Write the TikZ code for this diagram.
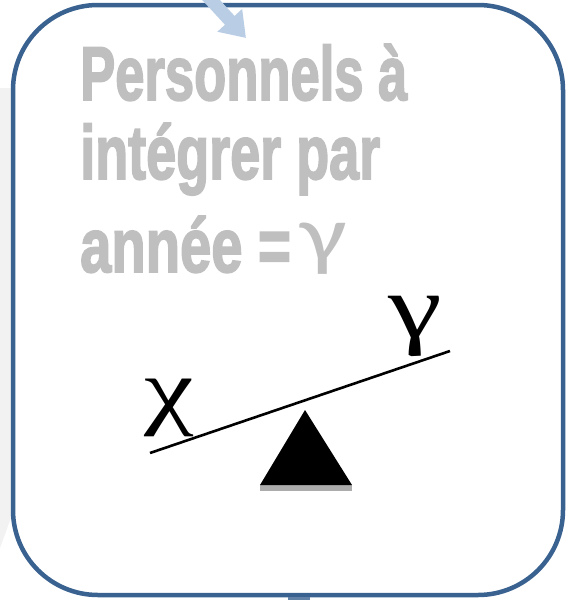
\documentclass[tikz,border=0pt]{standalone}
\usepackage{fontspec}
\usepackage{graphicx}
\usetikzlibrary{arrows.meta}
\newfontfamily\headfont[BoldFeatures={FakeBold=2.5}]{Liberation Sans}
\newfontfamily\greekserif{Liberation Serif}
\newfontfamily\greeksans{Carlito}
\definecolor{framecol}{HTML}{3A6291}
\definecolor{arrowcol}{HTML}{B9CDE5}
\definecolor{headcol}{HTML}{BFBFBF}
\definecolor{shadecol}{HTML}{F2F2F2}
\begin{document}
\begin{tikzpicture}[x=1pt,y=-1pt,
  headtext/.style={anchor=base west, inner sep=0pt, text=headcol,
    font=\headfont\bfseries\fontsize{72}{72}\selectfont},
  graygamma/.style={anchor=base west, inner sep=0pt, text=headcol,
    font=\greeksans\fontsize{80}{80}\selectfont},
  varlabel/.style={anchor=base, inner sep=0pt, text=black,
    font=\greekserif\fontsize{86}{86}\selectfont},
  frame/.style={draw=framecol, line width=4.5pt, rounded corners=85pt},
  beam/.style={draw=black, line width=2.6pt},
  bigarrow/.style={draw=arrowcol, line width=13pt, -{Triangle[length=24pt,width=32pt]}}
]
\useasboundingbox (0,0) rectangle (568,600);
% faint background shape on the left
\fill[shadecol] (0,88) -- (12,88) -- (12,515) -- (0,548) -- cycle;
% frame
\draw[frame] (13,5) rectangle (563,595);
% small piece below the frame
\fill[framecol!80!white] (288,597) rectangle (310,600);
% incoming arrow
\coordinate (arrowstart) at (200,-12);
\coordinate (arrowtip) at (246,38);
\draw[bigarrow] (arrowstart) -- (arrowtip);
% heading
\node[headtext] (l1) at (80,100) {\scalebox{0.73}[1.06]{Personnels à}};
\node[headtext] (l2) at (80,179) {\scalebox{0.75}[1.06]{intégrer par}};
\node[headtext] (l3) at (80,272) {\scalebox{0.78}[1.06]{année =}};
\node[graygamma] (l3g) at (300,261) {\scalebox{1.3}[1]{γ}};
% seesaw
\coordinate (beamL) at (150,453);
\coordinate (beamR) at (450,351);
\draw[beam] (beamL) -- (beamR);
\coordinate (apex) at (305,410);
\coordinate (baseL) at (260,485);
\coordinate (baseR) at (352,485);
\fill[gray!65] (260,485) rectangle (352,491);
\fill[black] (apex) -- (baseR) -- (baseL) -- cycle;
\node[varlabel] (chi) at (169,418) {\scalebox{1.3}[1]{χ}};
\node[varlabel, font=\greekserif\fontsize{90}{90}\selectfont] (gam) at (415,337) {\scalebox{1.35}[1]{γ}};
\end{tikzpicture}
\end{document}
